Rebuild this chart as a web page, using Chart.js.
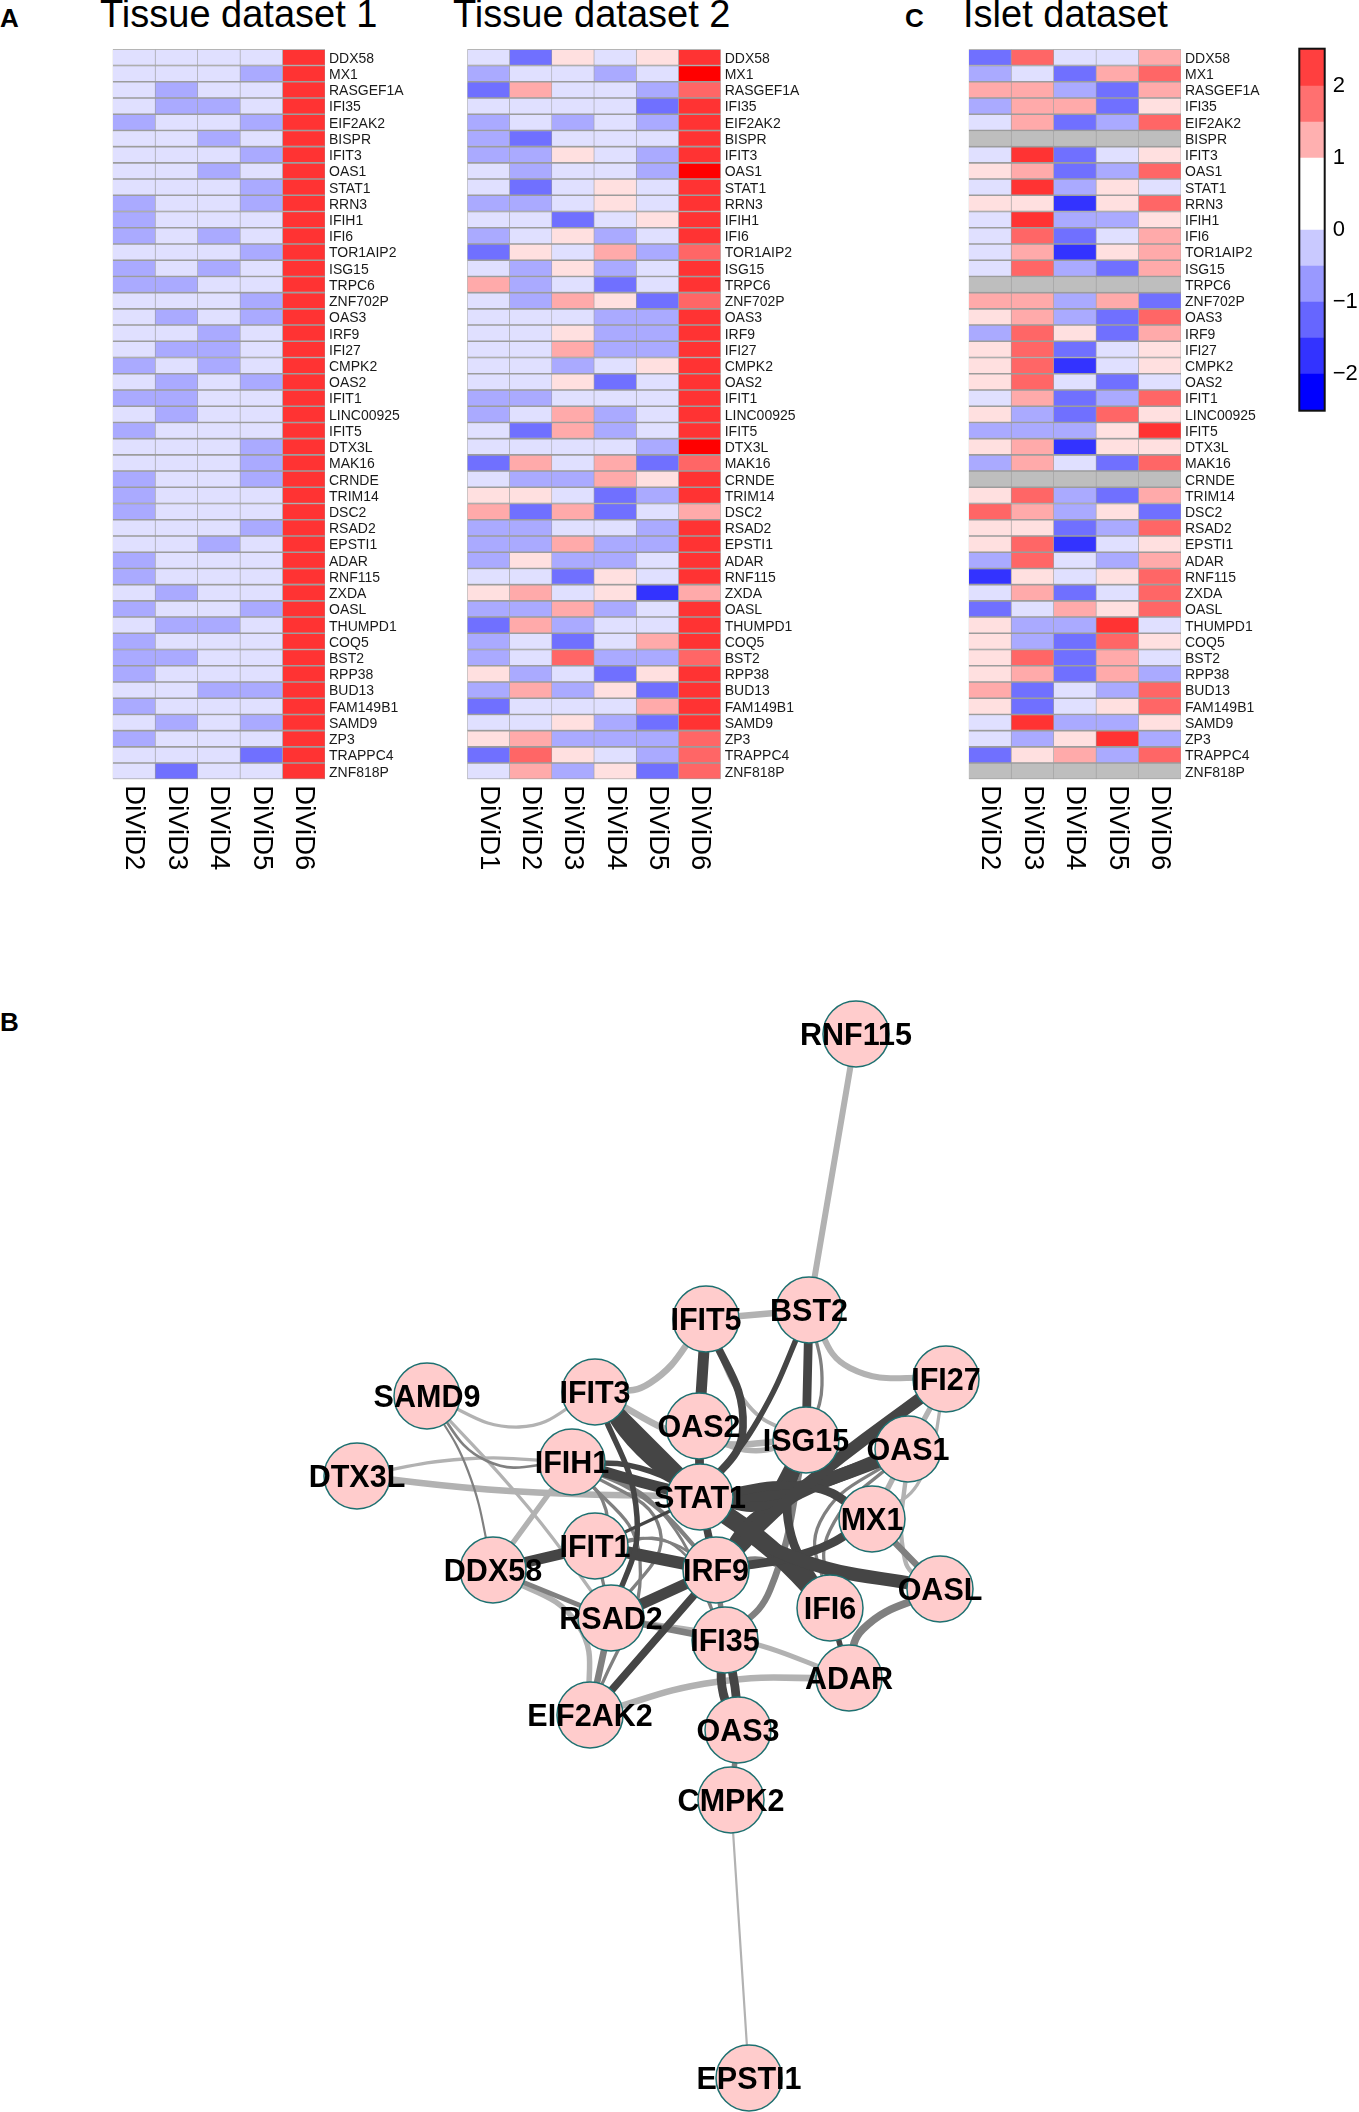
<!DOCTYPE html>
<html lang="en">
<head>
<meta charset="UTF-8">
<title>Heatmaps and network</title>
<script src="https://cdn.jsdelivr.net/npm/chart.js"></script>
<style>
    html, body { margin: 0; padding: 0; background: #fff; }
    body { position: relative; width: 1359px; height: 2112px; overflow: hidden; font-family: "Liberation Sans", Arial, sans-serif; color: #000; }
    canvas { position: absolute; display: block; }
    .title { position: absolute; top: -7px; font-size: 38px; white-space: nowrap; }
    .panel { position: absolute; font-size: 26px; font-weight: bold; }
</style>
</head>
<body>
<div class="panel" style="left:0;top:2.5px">A</div>
<div class="panel" style="left:905px;top:2.5px">C</div>
<div class="panel" style="left:0;top:1006.5px">B</div>
<div class="title" style="left:100px">Tissue dataset 1</div>
<div class="title" style="left:453px">Tissue dataset 2</div>
<div class="title" style="left:963px">Islet dataset</div>

<canvas id="tissue1" width="335" height="830" style="left:100px;top:45px"></canvas>
<canvas id="tissue2" width="375" height="830" style="left:455px;top:45px"></canvas>
<canvas id="islet" width="335" height="830" style="left:956px;top:45px"></canvas>
<canvas id="scale" width="69" height="380" style="left:1290px;top:40px"></canvas>
<canvas id="network" width="1359" height="1132" style="left:0;top:980px"></canvas>

<script>
const genes = ['DDX58','MX1','RASGEF1A','IFI35','EIF2AK2','BISPR','IFIT3','OAS1','STAT1','RRN3','IFIH1','IFI6','TOR1AIP2','ISG15','TRPC6','ZNF702P','OAS3','IRF9','IFI27','CMPK2','OAS2','IFIT1','LINC00925','IFIT5','DTX3L','MAK16','CRNDE','TRIM14','DSC2','RSAD2','EPSTI1','ADAR','RNF115','ZXDA','OASL','THUMPD1','COQ5','BST2','RPP38','BUD13','FAM149B1','SAMD9','ZP3','TRAPPC4','ZNF818P'];

const tissue1Columns = ['DiViD2','DiViD3','DiViD4','DiViD5','DiViD6'];
const tissue2Columns = ['DiViD1','DiViD2','DiViD3','DiViD4','DiViD5','DiViD6'];
const isletColumns = ['DiViD2','DiViD3','DiViD4','DiViD5','DiViD6'];

// z-scores per gene, same order as genes
const tissue1Values = [
    [-.3,-.3,-.3,-.3,2.2],[-.3,-.3,-.3,-.8,2.2],[-.3,-.8,-.3,-.3,2.2],[-.3,-.8,-.8,-.3,2.2],[-.8,-.3,-.3,-.8,2.2],
    [-.3,-.3,-.8,-.3,2.2],[-.3,-.3,-.3,-.8,2.2],[-.3,-.3,-.8,-.3,2.2],[-.3,-.3,-.3,-.8,2.2],[-.8,-.3,-.3,-.8,2.2],
    [-.8,-.3,-.3,-.3,2.2],[-.8,-.3,-.8,-.3,2.2],[-.3,-.3,-.3,-.8,2.2],[-.8,-.3,-.8,-.3,2.2],[-.8,-.8,-.3,-.3,2.2],
    [-.3,-.3,-.3,-.8,2.2],[-.3,-.8,-.3,-.8,2.2],[-.3,-.3,-.8,-.3,2.2],[-.3,-.8,-.8,-.3,2.2],[-.8,-.3,-.8,-.3,2.2],
    [-.3,-.8,-.3,-.8,2.2],[-.8,-.8,-.3,-.3,2.2],[-.3,-.8,-.3,-.3,2.2],[-.8,-.3,-.3,-.3,2.2],[-.3,-.3,-.3,-.8,2.2],
    [-.3,-.3,-.3,-.8,2.2],[-.8,-.3,-.3,-.8,2.2],[-.8,-.3,-.3,-.3,2.2],[-.8,-.3,-.3,-.3,2.2],[-.3,-.3,-.3,-.8,2.2],
    [-.3,-.3,-.8,-.3,2.2],[-.8,-.3,-.3,-.3,2.2],[-.8,-.3,-.3,-.3,2.2],[-.3,-.8,-.3,-.3,2.2],[-.8,-.3,-.3,-.8,2.2],
    [-.3,-.8,-.8,-.3,2.2],[-.8,-.3,-.3,-.3,2.2],[-.8,-.8,-.3,-.3,2.2],[-.8,-.3,-.3,-.3,2.2],[-.3,-.3,-.8,-.8,2.2],
    [-.8,-.3,-.3,-.3,2.2],[-.3,-.8,-.3,-.8,2.2],[-.8,-.3,-.3,-.3,2.2],[-.3,-.3,-.3,-1.3,2.2],[-.3,-1.3,-.3,-.3,2.2]
];
const tissue2Values = [
    [-.3,-1.3,.3,-.3,.3,2.2],[-.8,-.3,-.3,-.8,-.3,2.8],[-1.3,1.2,-.3,-.3,-.8,1.7],[-.3,-.3,-.3,-.3,-1.3,2.2],[-.8,-.3,-.8,-.3,-.8,2.2],
    [-.8,-1.3,-.3,-.3,-.3,2.2],[-.8,-.8,.3,-.3,-.8,2.2],[-.3,-.8,-.3,-.3,-.8,2.8],[-.3,-1.3,-.3,.3,-.3,2.2],[-.8,-.8,-.3,.3,-.3,2.2],
    [-.3,-.3,-1.3,-.3,.3,2.2],[-.8,-.3,.3,-.8,-.3,2.2],[-1.3,.3,-.3,1.2,-.8,1.7],[-.3,-.8,.3,-.8,-.3,2.2],[1.2,-.8,-.3,-1.3,-.3,2.2],
    [-.3,-.8,1.2,.3,-1.3,1.7],[-.3,-.3,-.3,-.8,-.8,2.2],[-.3,-.3,.3,-.8,-.8,2.2],[-.3,-.3,1.2,-.8,-.8,2.2],[-.3,-.3,-.8,-.3,.3,2.2],
    [-.3,-.3,.3,-1.3,-.3,2.2],[-.8,-.8,-.3,-.3,-.3,2.2],[-.8,-.3,1.2,-.8,-.3,2.2],[-.3,-1.3,1.2,-.8,-.3,2.2],[-.3,-.3,-.3,-.3,-.8,2.8],
    [-1.3,1.2,-.3,1.2,-1.3,1.7],[-.3,-.8,-.8,1.2,.3,2.2],[.3,.3,-.3,-1.3,-.8,2.2],[1.2,-1.3,1.2,-1.3,-.3,1.2],[-.8,-.8,-.3,-.3,-.8,2.2],
    [-.8,-.8,1.2,-.8,-.8,2.2],[-.8,.3,-.8,-.8,-.3,2.2],[-.3,-.3,-1.3,.3,-.3,2.2],[.3,1.2,-.3,.3,-1.8,1.2],[-.8,-.8,1.2,-.8,-.3,2.2],
    [-1.3,1.2,-.8,-.3,-.3,2.2],[-.8,-.3,-1.3,-.3,1.2,2.2],[-.8,-.3,1.7,-.8,-.8,1.7],[.3,-.8,-.3,-1.3,.3,2.2],[-.8,1.2,-.8,.3,-1.3,2.2],
    [-1.3,-.3,-.3,-.3,1.2,2.2],[-.3,-.3,.3,-.8,-1.3,2.2],[.3,1.2,-.8,-.8,-.8,1.7],[-1.3,1.7,.3,-.3,-.8,1.7],[-.3,1.2,-.8,.3,-1.3,1.7]
];
const isletValues = [
    [-1.3,1.7,-.3,-.3,1.2],[-.8,-.3,-1.3,1.2,1.7],[1.2,1.2,-.8,-1.3,1.2],[-.8,1.2,1.2,-1.3,.3],[-.3,1.2,-1.3,-.8,1.7],
    [null,null,null,null,null],[-.3,2.2,-1.3,-.3,.3],[.3,1.2,-1.3,-.8,1.7],[-.3,2.2,-.8,.3,-.3],[.3,.3,-1.8,.3,1.7],
    [-.3,2.2,-.8,-.8,.3],[-.3,1.7,-1.3,-.3,1.2],[-.3,1.2,-1.8,.3,1.2],[-.3,1.7,-.8,-1.3,1.2],[null,null,null,null,null],
    [1.2,1.2,-.8,1.2,-1.3],[.3,1.2,-.8,-1.3,1.7],[-.8,1.7,.3,-1.3,1.2],[.3,1.7,-1.3,-.3,.3],[.3,1.7,-1.8,-.3,.3],
    [.3,1.7,-.3,-1.3,-.3],[-.3,1.2,-1.3,-.8,1.7],[.3,-.8,-1.3,1.7,.3],[-.8,-.8,-.8,.3,2.2],[.3,1.2,-1.8,.3,.3],
    [-.8,1.2,-.3,-1.3,1.7],[null,null,null,null,null],[.3,1.7,-.8,-1.3,1.2],[1.7,1.2,-.8,.3,-1.3],[.3,.3,-1.3,-.8,1.7],
    [.3,1.7,-1.8,-.3,.3],[-.8,1.7,-.3,-.8,1.2],[-1.8,.3,-.3,.3,1.7],[-.3,1.2,-1.3,-.3,1.7],[-1.3,-.3,1.2,.3,1.7],
    [.3,-.8,-.8,2.2,-.3],[.3,-.8,-1.3,1.7,.3],[.3,1.7,-1.3,1.2,-.3],[.3,1.2,-1.3,1.2,-.8],[1.2,-1.3,-.3,-.8,1.7],
    [.3,-1.3,-.3,.3,1.7],[-.3,2.2,-.8,-.8,.3],[-.3,-.8,.3,2.2,-.8],[-1.3,.3,1.2,-.8,1.7],[null,null,null,null,null]
];

const scaleTicks = [-2,-1,0,1,2];
const scaleLow = [-2.51,-2,-1.5,-1,-.5,0,1,1.5,2];
const scaleHigh = [-2,-1.5,-1,-.5,0,1,1.5,2,2.52];
const scaleColors = ['#0000ff','#3333ff','#6666ff','#9999ff','#c9c9ff','#ffffff','#ffb0b0','#ff7070','#ff3f3f'];

// network panel, layout units
const nodeNames = ['RNF115','BST2','IFIT5','IFI27','IFIT3','OAS2','ISG15','OAS1','SAMD9','IFIH1','DTX3L','STAT1','MX1','IFIT1','DDX58','IRF9','IFI6','OASL','RSAD2','IFI35','ADAR','EIF2AK2','OAS3','CMPK2','EPSTI1'];
const nodeX = [856,809,706,946,595,699,806,908,427,572,357,700,872,595,493,716,830,940,611,725,849,590,738,731,749];
const nodeY = [1034,1310,1319,1379,1392,1426,1440,1449,1396,1462,1476,1497,1519,1546,1570,1570,1608,1589,1618,1640,1678,1715,1730,1800,2078];

// from, to, weight, confidence (1-3), optional bend point
const edges = [
    ['RNF115','BST2',5.5,1],['IFIT5','BST2',6,1],['BST2','IFI27',5.5,1,850,1368],['IFIT3','IFIT5',6,1,650,1383],
    ['IFIT5','ISG15',3.5,1,748,1405],['IFI27','OAS1',5,1],['IFI27','MX1',3,1,920,1480],['IFIT3','ISG15',6,1,700,1440],
    ['IFIT3','SAMD9',3,1,519,1427],['SAMD9','IFIH1',2.5,2,487,1461],['SAMD9','DDX58',2,2,468,1471],['SAMD9','RSAD2',3,1,528,1507],
    ['DTX3L','IFIH1',3,1,464,1459],['DTX3L','STAT1',6,1,510,1491],['IFIH1','DDX58',5,1],['IFIH1','IRF9',4,2,647,1500],
    ['IFIH1','IFIT1',3,2,606,1510],['IFIH1','RSAD2',3,2,660,1530],['IFIH1','IFI35',2.5,2,660,1510],['IFIH1','EIF2AK2',3,2,640,1560],
    ['IFIT1','IFI35',2.5,2,675,1546],['IFIT1','IRF9',2.5,2,660,1540],['DDX58','RSAD2',4.5,2],['DDX58','EIF2AK2',5,1,578,1625],
    ['RSAD2','IFI35',6,2],['RSAD2','ADAR',4.5,1,740,1640],['RSAD2','EIF2AK2',6,2],['IRF9','IFI35',5,2],['EIF2AK2','ADAR',6,1,716,1682],
    ['ADAR','OASL',7,2,863,1629],['IFI35','ISG15',6,2,770,1590],['MX1','OASL',6,2],['OAS1','MX1',5,1],['OAS1','OASL',4,1,905,1560],
    ['OAS1','IFI6',3,2,820,1522],['OAS1','IFI6',3,2,830,1530],['OAS3','CMPK2',5,2],['CMPK2','EPSTI1',2,1],['IFIT1','RSAD2',3,2],
    ['OAS2','ISG15',5,1,745,1450],['IRF9','IFI6',5,2,767,1561],['BST2','ISG15',3,2,822,1385],
    ['IFIT5','OAS2',10,3],['BST2','ISG15',8,3],['IFIT5','STAT1',7,3,743,1427],['BST2','STAT1',5,3,758,1420],
    ['IFI27','IRF9',11,3,800,1490],['IFIT3','STAT1',15,3],['IFIT3','STAT1',8,3,640,1452],['IFIT3','RSAD2',5,3,637,1517],
    ['IFIH1','STAT1',10,3,640,1482],['IFIH1','STAT1',5,3,640,1468],['DDX58','IFIT1',10,3],['IFIT1','IRF9',11,3],['IFIT1','STAT1',3,3],
    ['RSAD2','IRF9',10,3],['IRF9','EIF2AK2',7,3],['IFI35','OAS3',8,3,722,1687],['IFI35','OAS3',8,3,735,1687],['ADAR','IFI6',5,3],
    ['STAT1','OASL',12,3,790,1556],['MX1','STAT1',8,3,810,1487],['MX1','IRF9',8,3,810,1552],['OAS1','STAT1',12,3,790,1490],
    ['ISG15','STAT1',12,3,772,1500],['STAT1','IFI6',17,3,770,1548],['ISG15','IFI6',8,3,788,1520],
    ['IRF9','OAS1',12,3,765,1512],['IRF9','ISG15',12,3,755,1530],['STAT1','IRF9',7,3],['OAS2','STAT1',8,3]
];

const FONT = '"Liberation Sans", Arial, sans-serif';
const edgeShades = ['#b2b2b2','#808080','#454545'];

Chart.defaults.font.family = FONT;
Chart.defaults.color = '#000';

function cellColor(z) {
    if (z === null) return '#bebebe';
    if (z > 2.5) return '#ff0000';
    if (z > 2) return '#ff3333';
    if (z > 1.5) return '#ff6666';
    if (z > 1) return '#ffaaaa';
    if (z > 0) return '#ffe0e0';
    if (z > -.5) return '#e0e0ff';
    if (z > -1) return '#aaaaff';
    if (z > -1.5) return '#7070ff';
    return '#3333ff';
}

// rotated column names under the cells
function columnLabelPlugin(columns) {
    return {
        id: 'columnLabels',
        afterDraw(chart) {
            const ctx = chart.ctx;
            const x = chart.scales.x;
            const y = chart.chartArea.bottom + 6;
            ctx.save();
            ctx.font = '27.5px ' + FONT;
            ctx.fillStyle = '#000';
            ctx.textAlign = 'left';
            ctx.textBaseline = 'middle';
            columns.forEach((name, i) => {
                ctx.save();
                ctx.translate(x.getPixelForValue(i + .5), y);
                ctx.rotate(Math.PI / 2);
                ctx.fillText(name, 0, 0);
                ctx.restore();
            });
            ctx.restore();
        }
    };
}

function drawHeatmap(id, columns, values, padLeft, labelWidth) {
    new Chart(document.getElementById(id), {
        type: 'bar',
        data: {
            labels: genes,
            datasets: columns.map((name, c) => ({
                label: name,
                data: genes.map(() => 1),
                backgroundColor: values.map(row => cellColor(row[c])),
                borderColor: '#9c9c9c',
                borderWidth: { top: 1.1, bottom: 1.1, left: .6, right: .6 },
                borderSkipped: false,
                barPercentage: 1,
                categoryPercentage: 1
            }))
        },
        options: {
            indexAxis: 'y',
            responsive: false,
            animation: false,
            devicePixelRatio: 1,
            layout: { autoPadding: false, padding: { left: padLeft, top: 4.3, right: 0, bottom: 95.7 } },
            plugins: { legend: { display: false }, tooltip: { enabled: false } },
            scales: {
                x: { stacked: true, display: false, min: 0, max: columns.length },
                y: {
                    stacked: true,
                    position: 'right',
                    afterFit(scale) {
                        scale.width = labelWidth;
                        scale.paddingTop = 0;
                        scale.paddingBottom = 0;
                    },
                    grid: { display: false, drawTicks: false },
                    border: { display: false },
                    ticks: { autoSkip: false, padding: 4, labelOffset: 1.5, font: { size: 14 }, color: '#1a1a1a' }
                }
            }
        },
        plugins: [columnLabelPlugin(columns)]
    });
}

drawHeatmap('tissue1', tissue1Columns, tissue1Values, 12.7, 110);
drawHeatmap('tissue2', tissue2Columns, tissue2Values, 12.3, 109.3);
drawHeatmap('islet', isletColumns, isletValues, 12.7, 110);

// colour key
new Chart(document.getElementById('scale'), {
    type: 'bar',
    data: {
        labels: [''],
        datasets: scaleLow.map((low, i) => ({
            data: [[low, scaleHigh[i]]],
            backgroundColor: scaleColors[i],
            borderWidth: 0,
            grouped: false,
            barPercentage: 1,
            categoryPercentage: 1
        }))
    },
    options: {
        responsive: false,
        animation: false,
        devicePixelRatio: 1,
        layout: { autoPadding: false, padding: { left: 9.3, top: 8.7, right: 0, bottom: 9.3 } },
        plugins: { legend: { display: false }, tooltip: { enabled: false } },
        scales: {
            x: { display: false },
            y: {
                position: 'right',
                min: -2.51,
                max: 2.52,
                afterFit(scale) {
                    scale.width = 34.3;
                    scale.paddingTop = 0;
                    scale.paddingBottom = 0;
                },
                afterBuildTicks(scale) { scale.ticks = scaleTicks.map(v => ({ value: v })); },
                grid: { display: false, drawTicks: false },
                border: { display: false },
                ticks: {
                    padding: 8,
                    font: { size: 22 },
                    callback: v => String(v).replace('-', '\u2212')
                }
            }
        }
    },
    plugins: [{
        id: 'keyFrame',
        afterDraw(chart) {
            const a = chart.chartArea;
            chart.ctx.save();
            chart.ctx.strokeStyle = '#111';
            chart.ctx.lineWidth = 2;
            chart.ctx.strokeRect(a.left, a.top, a.width, a.height);
            chart.ctx.restore();
        }
    }]
});

// network
function nodePoint(name) {
    const i = nodeNames.indexOf(name);
    return { x: nodeX[i], y: nodeY[i] };
}

const edgeDatasets = edges.map(e => {
    const pts = [nodePoint(e[0])];
    if (e.length > 4) pts.push({ x: e[4], y: e[5] });
    pts.push(nodePoint(e[1]));
    return {
        data: pts,
        showLine: true,
        tension: .45,
        borderColor: edgeShades[e[3] - 1],
        borderWidth: e[2] * 1.1,
        borderCapStyle: 'round',
        pointRadius: 0,
        order: 10 - e[3]
    };
});

new Chart(document.getElementById('network'), {
    type: 'scatter',
    data: {
        datasets: [{
            data: nodeNames.map(nodePoint),
            pointRadius: 33,
            pointBackgroundColor: '#ffcccc',
            pointBorderColor: '#1d7070',
            pointBorderWidth: 1.5,
            order: 0
        }].concat(edgeDatasets)
    },
    options: {
        responsive: false,
        animation: false,
        devicePixelRatio: 1,
        layout: { autoPadding: false, padding: 0 },
        plugins: { legend: { display: false }, tooltip: { enabled: false } },
        scales: {
            x: { display: false, min: 0, max: 1359 },
            y: { display: false, min: 980, max: 2112, reverse: true }
        }
    },
    plugins: [{
        id: 'nodeLabels',
        afterDatasetsDraw(chart) {
            const ctx = chart.ctx;
            ctx.save();
            ctx.font = 'bold 30.5px ' + FONT;
            ctx.fillStyle = '#000';
            ctx.textAlign = 'center';
            ctx.textBaseline = 'middle';
            nodeNames.forEach((name, i) => {
                ctx.fillText(name, chart.scales.x.getPixelForValue(nodeX[i]), chart.scales.y.getPixelForValue(nodeY[i]) + 3);
            });
            ctx.restore();
        }
    }]
});
</script>
</body>
</html>
